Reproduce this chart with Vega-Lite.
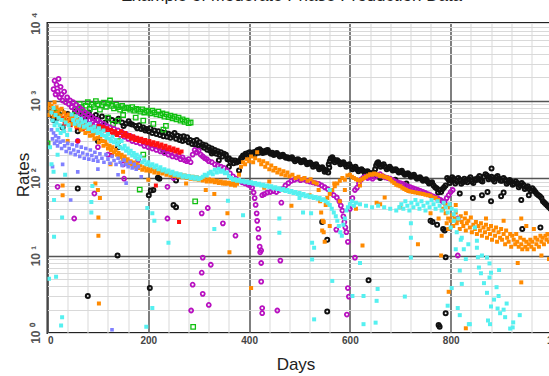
{
  "$schema": "https://vega.github.io/schema/vega-lite/v6.json",
  "width": 504,
  "height": 310,
  "autosize": {"type": "none"},
  "padding": {"left": 47.5, "top": 23, "right": 0, "bottom": 43},
  "background": "white",
  "config": {"font": "Liberation Sans", "view": {"stroke": "#222", "strokeWidth": 2}},
  "title": {"text": "Example of Moderate Phase Production Data", "frame": "group", "anchor": "middle", "orient": "top", "offset": 0, "dy": 6.5, "baseline": "alphabetic", "dx": -8, "fontSize": 17, "fontWeight": "normal", "color": "#222"},
  "datasets": {
    "black": [
      {"d":5,"r":800},{"d":8,"r":650},{"d":12,"r":560},{"d":16,"r":700},{"d":20,"r":600},{"d":28,"r":720},{"d":40,"r":670},{"d":48,"r":560},{"d":55,"r":720},{"d":62,"r":620},{"d":70,"r":680},{"d":76,"r":560},{"d":82,"r":700},{"d":90,"r":600},{"d":96,"r":650},{"d":100,"r":560},{"d":108,"r":620},{"d":115,"r":520},{"d":121,"r":600},{"d":128,"r":560},{"d":135,"r":540},{"d":141,"r":580},{"d":148,"r":520},{"d":155,"r":500},{"d":161,"r":540},{"d":168,"r":490},{"d":175,"r":470},{"d":182,"r":480},{"d":190,"r":450},{"d":197,"r":430},{"d":204,"r":440},{"d":212,"r":410},{"d":220,"r":400},{"d":227,"r":390},{"d":234,"r":380},{"d":240,"r":373},{"d":247,"r":360},{"d":252,"r":380},{"d":258,"r":350},{"d":264,"r":340},{"d":270,"r":345},{"d":277,"r":335},{"d":283,"r":310},{"d":290,"r":300},{"d":296,"r":310},{"d":302,"r":290},{"d":308,"r":270},{"d":314,"r":265},{"d":320,"r":250},{"d":326,"r":240},{"d":332,"r":230},{"d":338,"r":222},{"d":344,"r":215},{"d":350,"r":205},{"d":354,"r":200},{"d":360,"r":180},{"d":366,"r":170},{"d":372,"r":168},{"d":378,"r":165},{"d":384,"r":180},{"d":388,"r":195},{"d":393,"r":205},{"d":398,"r":210},{"d":404,"r":200},{"d":409,"r":215},{"d":414,"r":220},{"d":419,"r":212},{"d":424,"r":225},{"d":429,"r":220},{"d":434,"r":226},{"d":440,"r":215},{"d":446,"r":212},{"d":452,"r":205},{"d":458,"r":200},{"d":464,"r":195},{"d":470,"r":190},{"d":476,"r":185},{"d":482,"r":180},{"d":488,"r":175},{"d":494,"r":172},{"d":500,"r":168},{"d":506,"r":165},{"d":512,"r":160},{"d":518,"r":155},{"d":524,"r":150},{"d":530,"r":145},{"d":536,"r":140},{"d":542,"r":135},{"d":548,"r":130},{"d":553,"r":125},{"d":558,"r":150},{"d":562,"r":178},{"d":567,"r":175},{"d":572,"r":168},{"d":578,"r":162},{"d":584,"r":155},{"d":590,"r":150},{"d":596,"r":145},{"d":602,"r":140},{"d":608,"r":135},{"d":614,"r":130},{"d":620,"r":127},{"d":626,"r":124},{"d":632,"r":120},{"d":638,"r":117},{"d":644,"r":114},{"d":650,"r":130},{"d":654,"r":155},{"d":658,"r":150},{"d":664,"r":146},{"d":670,"r":140},{"d":676,"r":135},{"d":682,"r":132},{"d":688,"r":128},{"d":694,"r":124},{"d":700,"r":120},{"d":706,"r":116},{"d":712,"r":113},{"d":718,"r":110},{"d":724,"r":107},{"d":730,"r":103},{"d":736,"r":100},{"d":742,"r":97},{"d":748,"r":94},{"d":754,"r":90},{"d":760,"r":86},{"d":766,"r":80},{"d":772,"r":74},{"d":778,"r":70},{"d":784,"r":72},{"d":790,"r":80},{"d":796,"r":95},{"d":800,"r":92},{"d":806,"r":98},{"d":812,"r":90},{"d":818,"r":95},{"d":824,"r":88},{"d":830,"r":93},{"d":836,"r":97},{"d":842,"r":90},{"d":848,"r":96},{"d":854,"r":100},{"d":860,"r":93},{"d":866,"r":104},{"d":872,"r":108},{"d":878,"r":100},{"d":884,"r":95},{"d":890,"r":102},{"d":896,"r":98},{"d":902,"r":92},{"d":908,"r":95},{"d":914,"r":88},{"d":920,"r":90},{"d":926,"r":84},{"d":932,"r":86},{"d":938,"r":80},{"d":944,"r":82},{"d":950,"r":76},{"d":956,"r":72},{"d":962,"r":74},{"d":968,"r":66},{"d":974,"r":60},{"d":980,"r":55},{"d":986,"r":48},{"d":992,"r":44},{"d":998,"r":40},
      {"d":151,"r":470},{"d":164,"r":500},{"d":178,"r":440},{"d":186,"r":430},{"d":194,"r":410},{"d":201,"r":400},{"d":208,"r":380},{"d":216,"r":370},{"d":223,"r":360},{"d":230,"r":345},{"d":237,"r":340},{"d":244,"r":330},{"d":255,"r":320},{"d":262,"r":310},{"d":268,"r":300},{"d":274,"r":310},{"d":280,"r":290},{"d":287,"r":275},{"d":293,"r":270},{"d":299,"r":265},{"d":305,"r":255},{"d":311,"r":245},{"d":317,"r":232},{"d":323,"r":225},{"d":329,"r":215},{"d":335,"r":205},{"d":341,"r":200},{"d":347,"r":190},{"d":357,"r":175},{"d":363,"r":160},{"d":369,"r":155},{"d":375,"r":158},{"d":381,"r":165},{"d":386,"r":185},{"d":391,"r":190},{"d":396,"r":195},{"d":401,"r":215},{"d":406,"r":205},{"d":411,"r":200},{"d":417,"r":230},{"d":421,"r":235},{"d":427,"r":210},{"d":432,"r":215},{"d":437,"r":230},{"d":443,"r":205},{"d":449,"r":198},{"d":455,"r":210},{"d":461,"r":190},{"d":467,"r":200},{"d":473,"r":182},{"d":479,"r":178},{"d":485,"r":185},{"d":491,"r":165},{"d":497,"r":175},{"d":503,"r":160},{"d":509,"r":170},{"d":515,"r":150},{"d":521,"r":158},{"d":527,"r":140},{"d":533,"r":150},{"d":539,"r":130},{"d":545,"r":138},{"d":550,"r":120},{"d":560,"r":165},{"d":565,"r":185},{"d":570,"r":160},{"d":575,"r":170},{"d":581,"r":150},{"d":587,"r":160},{"d":593,"r":140},{"d":599,"r":150},{"d":605,"r":130},{"d":611,"r":140},{"d":617,"r":122},{"d":623,"r":130},{"d":629,"r":118},{"d":635,"r":122},{"d":641,"r":110},{"d":647,"r":118},{"d":652,"r":145},{"d":656,"r":160},{"d":661,"r":140},{"d":667,"r":150},{"d":673,"r":130},{"d":679,"r":140},{"d":685,"r":125},{"d":691,"r":130},{"d":697,"r":118},{"d":703,"r":124},{"d":709,"r":110},{"d":715,"r":115},{"d":721,"r":104},{"d":727,"r":110},{"d":733,"r":98},{"d":739,"r":102},{"d":745,"r":92},{"d":751,"r":96},{"d":757,"r":85},{"d":763,"r":88},{"d":769,"r":76},{"d":775,"r":65},{"d":781,"r":66},{"d":787,"r":76},{"d":793,"r":100},{"d":798,"r":86},{"d":803,"r":102},{"d":809,"r":85},{"d":815,"r":100},{"d":821,"r":84},{"d":827,"r":98},{"d":833,"r":88},{"d":839,"r":102},{"d":845,"r":86},{"d":851,"r":94},{"d":857,"r":106},{"d":863,"r":90},{"d":869,"r":112},{"d":875,"r":96},{"d":881,"r":104},{"d":887,"r":90},{"d":893,"r":106},{"d":899,"r":92},{"d":905,"r":100},{"d":911,"r":84},{"d":917,"r":94},{"d":923,"r":82},{"d":929,"r":90},{"d":935,"r":76},{"d":941,"r":86},{"d":947,"r":72},{"d":953,"r":78},{"d":959,"r":68},{"d":965,"r":70},{"d":971,"r":62},{"d":977,"r":58},{"d":983,"r":50},{"d":989,"r":46},{"d":995,"r":42},
      {"d":60,"r":73},{"d":219,"r":101},{"d":205,"r":69},{"d":201,"r":60},{"d":255,"r":42},{"d":139,"r":10},{"d":80,"r":3},{"d":203,"r":3.8},{"d":380,"r":125},{"d":255,"r":93},{"d":222,"r":98},{"d":210,"r":70},{"d":250,"r":45},{"d":326,"r":207},{"d":559,"r":137},{"d":545,"r":27},{"d":555,"r":16},{"d":557,"r":118},{"d":637,"r":4.8},{"d":555,"r":1.9},{"d":818,"r":63},{"d":844,"r":55},{"d":873,"r":66},{"d":880,"r":50},{"d":900,"r":58},{"d":940,"r":52},{"d":764,"r":27},{"d":788,"r":21},{"d":881,"r":133},{"d":785,"r":22},{"d":790,"r":9.5},{"d":790,"r":1.8},{"d":776,"r":1.27},{"d":942,"r":22},{"d":978,"r":23},{"d":650,"r":108},{"d":660,"r":100},{"d":760,"r":28},{"d":773,"r":25},{"d":778,"r":1.2},{"d":690,"r":95},{"d":712,"r":85},{"d":862,"r":60},{"d":905,"r":65},{"d":955,"r":60},{"d":140,"r":250},{"d":100,"r":300},{"d":60,"r":400},{"d":30,"r":450},{"d":230,"r":220},{"d":340,"r":170},{"d":360,"r":140}
    ],
    "green": [
      {"d":0,"r":280},{"d":20,"r":700},{"d":40,"r":600},{"d":55,"r":650},{"d":60,"r":750},{"d":64,"r":900},{"d":68,"r":820},{"d":72,"r":700},{"d":76,"r":860},{"d":80,"r":950},{"d":84,"r":780},{"d":88,"r":880},{"d":92,"r":820},{"d":96,"r":980},{"d":100,"r":900},{"d":104,"r":760},{"d":108,"r":870},{"d":112,"r":940},{"d":116,"r":830},{"d":120,"r":910},{"d":124,"r":1000},{"d":128,"r":850},{"d":132,"r":790},{"d":136,"r":880},{"d":140,"r":820},{"d":144,"r":760},{"d":148,"r":850},{"d":152,"r":790},{"d":156,"r":810},{"d":160,"r":800},{"d":164,"r":760},{"d":168,"r":820},{"d":172,"r":740},{"d":176,"r":780},{"d":180,"r":760},{"d":184,"r":720},{"d":188,"r":770},{"d":192,"r":700},{"d":196,"r":740},{"d":200,"r":720},{"d":204,"r":680},{"d":208,"r":740},{"d":212,"r":700},{"d":216,"r":660},{"d":220,"r":720},{"d":224,"r":650},{"d":228,"r":680},{"d":232,"r":620},{"d":236,"r":660},{"d":240,"r":610},{"d":244,"r":640},{"d":248,"r":590},{"d":252,"r":620},{"d":256,"r":570},{"d":260,"r":600},{"d":264,"r":550},{"d":268,"r":570},{"d":272,"r":530},{"d":276,"r":550},{"d":280,"r":510},{"d":284,"r":520},
      {"d":120,"r":600},{"d":130,"r":500},{"d":140,"r":550},{"d":150,"r":650},{"d":175,"r":600},{"d":190,"r":550},{"d":210,"r":500},{"d":235,"r":470},
      {"d":183,"r":71},{"d":293,"r":50},{"d":289,"r":1.2},{"d":140,"r":300},{"d":190,"r":200},{"d":230,"r":420},{"d":60,"r":500}
    ],
    "magenta": [
      {"d":12,"r":1400},{"d":14,"r":1800},{"d":16,"r":1200},{"d":18,"r":1600},{"d":20,"r":1300},{"d":22,"r":1900},{"d":24,"r":1100},{"d":26,"r":1500},{"d":28,"r":1200},{"d":30,"r":1000},{"d":33,"r":1300},{"d":36,"r":950},{"d":39,"r":1100},{"d":42,"r":900},{"d":45,"r":1000},{"d":48,"r":820},{"d":51,"r":950},{"d":54,"r":780},{"d":57,"r":880},{"d":60,"r":720},{"d":63,"r":820},{"d":66,"r":680},{"d":69,"r":760},{"d":72,"r":640},{"d":75,"r":700},{"d":78,"r":600},{"d":81,"r":660},{"d":84,"r":560},{"d":87,"r":620},{"d":90,"r":540},{"d":93,"r":580},{"d":96,"r":500},{"d":99,"r":560},{"d":102,"r":480},{"d":105,"r":520},{"d":108,"r":460},{"d":111,"r":500},{"d":114,"r":440},{"d":117,"r":470},{"d":120,"r":420},{"d":124,"r":450},{"d":128,"r":400},{"d":132,"r":430},{"d":136,"r":380},{"d":140,"r":410},{"d":144,"r":360},{"d":148,"r":390},{"d":152,"r":340},{"d":156,"r":370},{"d":160,"r":320},{"d":164,"r":350},{"d":168,"r":300},{"d":172,"r":330},{"d":176,"r":290},{"d":180,"r":310},{"d":184,"r":280},{"d":188,"r":300},{"d":192,"r":260},{"d":196,"r":280},{"d":200,"r":250},{"d":204,"r":270},{"d":208,"r":240},{"d":212,"r":260},{"d":216,"r":230},{"d":220,"r":250},{"d":224,"r":220},{"d":228,"r":240},{"d":232,"r":210},{"d":236,"r":225},{"d":240,"r":200},{"d":244,"r":215},{"d":248,"r":190},{"d":252,"r":205},{"d":256,"r":185},{"d":260,"r":195},{"d":264,"r":175},{"d":268,"r":185},{"d":272,"r":170},{"d":276,"r":165},{"d":280,"r":175},{"d":284,"r":160},{"d":288,"r":200},{"d":292,"r":230},{"d":296,"r":215},{"d":300,"r":226},{"d":304,"r":200},{"d":308,"r":190},{"d":312,"r":180},{"d":316,"r":175},{"d":320,"r":165},{"d":326,"r":160},{"d":332,"r":150},{"d":338,"r":145},{"d":344,"r":140},{"d":350,"r":135},{"d":356,"r":125},{"d":362,"r":115},{"d":368,"r":105},{"d":374,"r":98},{"d":380,"r":92},{"d":386,"r":88},{"d":392,"r":85},{"d":398,"r":82},{"d":402,"r":80},{"d":406,"r":75},{"d":409,"r":65},{"d":411,"r":55},{"d":413,"r":45},{"d":415,"r":35},{"d":416,"r":28},{"d":418,"r":22},{"d":419,"r":17},{"d":421,"r":13},{"d":422,"r":11},{"d":424,"r":8},{"d":426,"r":60},{"d":430,"r":62},{"d":436,"r":65},{"d":442,"r":66},{"d":448,"r":68},{"d":454,"r":66},{"d":460,"r":70},{"d":466,"r":72},{"d":472,"r":80},{"d":478,"r":86},{"d":484,"r":92},{"d":490,"r":95},{"d":496,"r":98},{"d":502,"r":94},{"d":508,"r":96},{"d":514,"r":92},{"d":520,"r":90},{"d":526,"r":88},{"d":532,"r":86},{"d":538,"r":84},{"d":544,"r":80},{"d":550,"r":76},{"d":556,"r":72},{"d":562,"r":66},{"d":568,"r":60},{"d":574,"r":56},{"d":579,"r":50},{"d":582,"r":44},{"d":585,"r":38},{"d":587,"r":32},{"d":589,"r":27},{"d":591,"r":23},{"d":593,"r":20},{"d":596,"r":15},{"d":600,"r":40},{"d":605,"r":55},{"d":610,"r":70},{"d":614,"r":75},{"d":618,"r":85},{"d":622,"r":95},{"d":626,"r":100},{"d":630,"r":104},{"d":635,"r":100},{"d":640,"r":102},{"d":645,"r":98},{"d":650,"r":104},{"d":655,"r":108},{"d":660,"r":112},{"d":665,"r":106},{"d":670,"r":102},{"d":675,"r":100},{"d":680,"r":98},{"d":685,"r":94},{"d":690,"r":90},{"d":695,"r":88},{"d":700,"r":86},{"d":705,"r":84},{"d":710,"r":80},{"d":715,"r":78},{"d":720,"r":76},{"d":725,"r":74},{"d":730,"r":72},{"d":735,"r":70},{"d":740,"r":68},{"d":745,"r":66},{"d":750,"r":64},{"d":755,"r":62},{"d":760,"r":60},{"d":765,"r":58},{"d":770,"r":56},{"d":775,"r":54},{"d":780,"r":52},{"d":784,"r":50},{"d":788,"r":48},{"d":792,"r":55},{"d":796,"r":60},{"d":800,"r":66},{"d":804,"r":70},
      {"d":20,"r":77},{"d":93,"r":63},{"d":53,"r":30},{"d":152,"r":98},{"d":238,"r":77},{"d":238,"r":30},{"d":306,"r":35},{"d":318,"r":41},{"d":348,"r":26},{"d":373,"r":18},{"d":308,"r":9.4},{"d":324,"r":7.6},{"d":306,"r":6},{"d":288,"r":4.2},{"d":308,"r":3.2},{"d":320,"r":2.3},{"d":285,"r":1.95},{"d":424,"r":11.6},{"d":462,"r":8.6},{"d":424,"r":4.6},{"d":426,"r":2.1},{"d":426,"r":1.8},{"d":456,"r":1.95},{"d":573,"r":21.6},{"d":610,"r":9.4},{"d":596,"r":3.8},{"d":598,"r":2.95},{"d":594,"r":1.73},{"d":464,"r":48},{"d":814,"r":30},{"d":814,"r":10},{"d":150,"r":150},{"d":180,"r":170},{"d":120,"r":200},{"d":250,"r":100},{"d":60,"r":300},{"d":100,"r":250}
    ],
    "red": [
      {"d":30,"r":600},{"d":34,"r":500},{"d":38,"r":650},{"d":42,"r":560},{"d":46,"r":480},{"d":50,"r":620},{"d":54,"r":520},{"d":58,"r":450},{"d":62,"r":560},{"d":66,"r":480},{"d":70,"r":430},{"d":74,"r":520},{"d":78,"r":450},{"d":82,"r":400},{"d":86,"r":470},{"d":90,"r":420},{"d":94,"r":380},{"d":98,"r":440},{"d":102,"r":470},{"d":106,"r":420},{"d":110,"r":460},{"d":114,"r":410},{"d":118,"r":440},{"d":122,"r":390},{"d":126,"r":420},{"d":130,"r":370},{"d":134,"r":400},{"d":138,"r":360},{"d":142,"r":380},{"d":146,"r":400},{"d":150,"r":350},{"d":154,"r":380},{"d":158,"r":340},{"d":162,"r":360},{"d":166,"r":320},{"d":170,"r":345},{"d":174,"r":310},{"d":178,"r":330},{"d":182,"r":300},{"d":186,"r":320},{"d":190,"r":290},{"d":194,"r":310},{"d":198,"r":280},{"d":202,"r":300},{"d":206,"r":270},{"d":210,"r":290},{"d":214,"r":265},{"d":218,"r":280},{"d":222,"r":255},{"d":226,"r":270},{"d":230,"r":245},{"d":234,"r":260},{"d":238,"r":235},{"d":242,"r":250},{"d":246,"r":228},{"d":250,"r":240},{"d":254,"r":220},{"d":258,"r":232},{"d":262,"r":212},{"d":266,"r":220},
      {"d":215,"r":80},{"d":261,"r":27},{"d":128,"r":200},{"d":60,"r":300}
    ],
    "orange": [
      {"d":0,"r":800},{"d":2,"r":650},{"d":4,"r":900},{"d":6,"r":720},{"d":8,"r":850},{"d":10,"r":750},{"d":12,"r":620},{"d":14,"r":950},{"d":16,"r":680},{"d":18,"r":820},{"d":20,"r":700},{"d":22,"r":600},{"d":24,"r":760},{"d":26,"r":640},{"d":28,"r":780},{"d":30,"r":560},{"d":33,"r":700},{"d":36,"r":620},{"d":39,"r":540},{"d":42,"r":660},{"d":45,"r":580},{"d":48,"r":500},{"d":51,"r":620},{"d":54,"r":540},{"d":57,"r":470},{"d":60,"r":560},{"d":63,"r":480},{"d":66,"r":420},{"d":69,"r":500},{"d":72,"r":440},{"d":75,"r":380},{"d":78,"r":460},{"d":81,"r":400},{"d":84,"r":350},{"d":87,"r":420},{"d":90,"r":360},{"d":93,"r":320},{"d":96,"r":380},{"d":99,"r":330},{"d":102,"r":290},{"d":105,"r":340},{"d":108,"r":300},{"d":111,"r":260},{"d":114,"r":300},{"d":117,"r":270},{"d":120,"r":240},{"d":123,"r":260},{"d":126,"r":230},{"d":129,"r":250},{"d":132,"r":215},{"d":135,"r":230},{"d":138,"r":200},{"d":141,"r":210},{"d":144,"r":185},{"d":147,"r":200},{"d":150,"r":175},{"d":153,"r":190},{"d":156,"r":165},{"d":159,"r":175},{"d":162,"r":155},{"d":165,"r":165},{"d":168,"r":148},{"d":171,"r":158},{"d":174,"r":140},{"d":177,"r":150},{"d":180,"r":135},{"d":184,"r":145},{"d":188,"r":128},{"d":192,"r":138},{"d":196,"r":125},{"d":200,"r":132},{"d":204,"r":122},{"d":208,"r":130},{"d":212,"r":118},{"d":216,"r":126},{"d":220,"r":116},{"d":224,"r":124},{"d":228,"r":114},{"d":232,"r":120},{"d":236,"r":110},{"d":240,"r":118},{"d":244,"r":108},{"d":248,"r":115},{"d":252,"r":106},{"d":256,"r":112},{"d":260,"r":104},{"d":264,"r":110},{"d":268,"r":102},{"d":272,"r":108},{"d":276,"r":100},{"d":280,"r":106},{"d":284,"r":98},{"d":288,"r":104},{"d":292,"r":96},{"d":296,"r":102},{"d":300,"r":95},{"d":304,"r":100},{"d":308,"r":93},{"d":312,"r":98},{"d":316,"r":90},{"d":320,"r":96},{"d":324,"r":90},{"d":328,"r":94},{"d":332,"r":88},{"d":336,"r":92},{"d":340,"r":86},{"d":344,"r":90},{"d":348,"r":85},{"d":352,"r":88},{"d":356,"r":84},{"d":360,"r":87},{"d":364,"r":82},{"d":368,"r":86},{"d":372,"r":80},{"d":376,"r":84},{"d":380,"r":110},{"d":384,"r":140},{"d":388,"r":160},{"d":392,"r":150},{"d":396,"r":175},{"d":400,"r":165},{"d":404,"r":190},{"d":408,"r":160},{"d":412,"r":180},{"d":416,"r":215},{"d":420,"r":170},{"d":424,"r":150},{"d":428,"r":165},{"d":432,"r":140},{"d":436,"r":155},{"d":440,"r":130},{"d":444,"r":145},{"d":448,"r":125},{"d":452,"r":135},{"d":456,"r":118},{"d":460,"r":128},{"d":464,"r":112},{"d":468,"r":122},{"d":472,"r":108},{"d":476,"r":118},{"d":480,"r":105},{"d":486,"r":110},{"d":492,"r":100},{"d":498,"r":104},{"d":504,"r":96},{"d":510,"r":100},{"d":516,"r":92},{"d":522,"r":96},{"d":528,"r":88},{"d":534,"r":85},{"d":538,"r":70},{"d":541,"r":50},{"d":543,"r":36},{"d":546,"r":28},{"d":548,"r":20},{"d":550,"r":15},{"d":552,"r":45},{"d":555,"r":55},{"d":560,"r":62},{"d":565,"r":70},{"d":570,"r":78},{"d":575,"r":85},{"d":580,"r":92},{"d":585,"r":100},{"d":590,"r":95},{"d":595,"r":108},{"d":600,"r":110},{"d":604,"r":104},{"d":608,"r":100},{"d":612,"r":96},{"d":616,"r":94},{"d":620,"r":92},{"d":624,"r":96},{"d":628,"r":100},{"d":632,"r":104},{"d":636,"r":108},{"d":640,"r":112},{"d":644,"r":110},{"d":648,"r":114},{"d":652,"r":112},{"d":656,"r":110},{"d":660,"r":106},{"d":664,"r":108},{"d":668,"r":104},{"d":672,"r":102},{"d":676,"r":100},{"d":680,"r":96},{"d":684,"r":90},{"d":688,"r":86},{"d":692,"r":82},{"d":696,"r":80},{"d":700,"r":78},{"d":704,"r":75},{"d":708,"r":72},{"d":712,"r":70},{"d":716,"r":68},{"d":720,"r":67},{"d":725,"r":66},{"d":730,"r":65},{"d":735,"r":64},{"d":740,"r":63},{"d":745,"r":62},{"d":750,"r":61},{"d":755,"r":60},{"d":760,"r":59},{"d":765,"r":56},{"d":770,"r":55},{"d":775,"r":52},
      {"d":785,"r":40},{"d":790,"r":35},{"d":792,"r":26},{"d":795,"r":30},{"d":798,"r":42},{"d":800,"r":28},{"d":803,"r":33},{"d":805,"r":24},{"d":808,"r":30},{"d":810,"r":36},{"d":812,"r":26},{"d":815,"r":29},{"d":818,"r":22},{"d":820,"r":32},{"d":822,"r":27},{"d":825,"r":24},{"d":828,"r":30},{"d":830,"r":21},{"d":832,"r":26},{"d":835,"r":28},{"d":838,"r":23},{"d":840,"r":31},{"d":842,"r":20},{"d":845,"r":25},{"d":848,"r":22},{"d":850,"r":27},{"d":852,"r":19},{"d":855,"r":24},{"d":858,"r":21},{"d":860,"r":26},{"d":862,"r":18},{"d":865,"r":23},{"d":868,"r":20},{"d":870,"r":25},{"d":872,"r":17},{"d":875,"r":22},{"d":878,"r":19},{"d":880,"r":24},{"d":882,"r":16},{"d":885,"r":21},{"d":888,"r":18},{"d":890,"r":23},{"d":892,"r":15},{"d":895,"r":20},{"d":898,"r":17},{"d":900,"r":22},{"d":902,"r":16},{"d":905,"r":19},{"d":908,"r":14},{"d":910,"r":21},{"d":912,"r":17},{"d":915,"r":15},{"d":918,"r":19},{"d":920,"r":13},{"d":922,"r":18},{"d":925,"r":16},{"d":928,"r":14},{"d":930,"r":19},{"d":932,"r":15},{"d":935,"r":13},{"d":938,"r":17},{"d":940,"r":14},{"d":942,"r":12},{"d":945,"r":16},{"d":948,"r":13},{"d":950,"r":15},{"d":952,"r":12},{"d":955,"r":14},{"d":958,"r":16},{"d":960,"r":13},{"d":962,"r":15},{"d":965,"r":12},{"d":968,"r":17},{"d":970,"r":14},{"d":972,"r":16},{"d":975,"r":13},{"d":978,"r":18},{"d":980,"r":15},{"d":982,"r":17},{"d":985,"r":14},{"d":988,"r":18},{"d":990,"r":16},{"d":992,"r":19},{"d":995,"r":15},{"d":998,"r":17},{"d":1000,"r":18},
      {"d":830,"r":35},{"d":870,"r":30},{"d":905,"r":28},{"d":940,"r":30},{"d":965,"r":22},{"d":980,"r":10},{"d":995,"r":9},{"d":810,"r":45},{"d":950,"r":24},
      {"d":30,"r":80},{"d":30,"r":60},{"d":95,"r":85},{"d":100,"r":70},{"d":104,"r":55},{"d":101,"r":31},{"d":101,"r":18},{"d":102,"r":2.4},{"d":275,"r":85},{"d":314,"r":70},{"d":331,"r":62},{"d":352,"r":85},{"d":357,"r":35},{"d":361,"r":11},{"d":404,"r":3.8},{"d":484,"r":44},{"d":545,"r":21},{"d":548,"r":27},{"d":625,"r":13.5},{"d":653,"r":48},{"d":669,"r":56},{"d":569,"r":85},{"d":735,"r":14},{"d":776,"r":30},{"d":782,"r":18},{"d":781,"r":10},{"d":796,"r":3.4},{"d":830,"r":1.15},{"d":933,"r":8},{"d":940,"r":4.5},{"d":790,"r":45},{"d":795,"r":22},{"d":560,"r":24},{"d":580,"r":50},{"d":612,"r":40},{"d":660,"r":46},{"d":700,"r":42},{"d":760,"r":35},{"d":520,"r":60},{"d":470,"r":70},{"d":440,"r":90},{"d":430,"r":75},{"d":620,"r":80},{"d":590,"r":70},{"d":150,"r":120},{"d":200,"r":95},{"d":125,"r":150},{"d":40,"r":300}
    ],
    "lavender": [
      {"d":8,"r":420},{"d":10,"r":320},{"d":12,"r":380},{"d":14,"r":280},{"d":16,"r":350},{"d":18,"r":300},{"d":20,"r":260},{"d":22,"r":330},{"d":25,"r":290},{"d":28,"r":240},{"d":31,"r":300},{"d":34,"r":260},{"d":37,"r":220},{"d":40,"r":280},{"d":43,"r":240},{"d":46,"r":210},{"d":49,"r":270},{"d":52,"r":230},{"d":55,"r":200},{"d":58,"r":260},{"d":61,"r":220},{"d":64,"r":190},{"d":67,"r":250},{"d":70,"r":210},{"d":73,"r":180},{"d":76,"r":240},{"d":79,"r":200},{"d":82,"r":175},{"d":85,"r":230},{"d":88,"r":195},{"d":91,"r":170},{"d":94,"r":215},{"d":97,"r":185},{"d":100,"r":165},{"d":104,"r":205},{"d":108,"r":180},{"d":112,"r":160},{"d":116,"r":200},{"d":120,"r":175},{"d":124,"r":155},{"d":128,"r":190},{"d":132,"r":168},{"d":136,"r":150},{"d":140,"r":180},{"d":144,"r":160},{"d":148,"r":145},{"d":152,"r":170},{"d":156,"r":150},{"d":160,"r":140},{"d":164,"r":160},{"d":168,"r":135},{"d":172,"r":150},{"d":176,"r":130},{"d":180,"r":140},
      {"d":46,"r":52},{"d":156,"r":86},{"d":186,"r":104},{"d":128,"r":1.1},{"d":30,"r":150},{"d":60,"r":120},{"d":100,"r":130},{"d":140,"r":110},{"d":10,"r":140}
    ],
    "cyan": [
      {"d":8,"r":700},{"d":10,"r":550},{"d":12,"r":800},{"d":14,"r":480},{"d":16,"r":650},{"d":18,"r":520},{"d":20,"r":420},{"d":22,"r":600},{"d":24,"r":480},{"d":26,"r":380},{"d":28,"r":560},{"d":30,"r":450},{"d":33,"r":400},{"d":36,"r":520},{"d":39,"r":360},{"d":42,"r":480},{"d":45,"r":420},{"d":48,"r":660},{"d":51,"r":560},{"d":54,"r":500},{"d":57,"r":620},{"d":60,"r":540},{"d":63,"r":480},{"d":66,"r":580},{"d":69,"r":520},{"d":72,"r":460},{"d":75,"r":540},{"d":78,"r":480},{"d":81,"r":430},{"d":84,"r":500},{"d":87,"r":440},{"d":90,"r":400},{"d":93,"r":460},{"d":96,"r":410},{"d":99,"r":380},{"d":102,"r":440},{"d":105,"r":390},{"d":108,"r":360},{"d":111,"r":410},{"d":114,"r":350},{"d":117,"r":330},{"d":120,"r":370},{"d":123,"r":320},{"d":126,"r":300},{"d":129,"r":340},{"d":132,"r":290},{"d":135,"r":310},{"d":138,"r":270},{"d":141,"r":290},{"d":144,"r":250},{"d":147,"r":300},{"d":150,"r":240},{"d":153,"r":260},{"d":156,"r":225},{"d":159,"r":240},{"d":162,"r":210},{"d":165,"r":225},{"d":168,"r":195},{"d":171,"r":210},{"d":174,"r":185},{"d":177,"r":200},{"d":180,"r":175},{"d":184,"r":190},{"d":188,"r":160},{"d":192,"r":170},{"d":196,"r":150},{"d":200,"r":160},{"d":204,"r":145},{"d":208,"r":150},{"d":212,"r":138},{"d":216,"r":145},{"d":220,"r":130},{"d":224,"r":138},{"d":228,"r":125},{"d":232,"r":130},{"d":236,"r":120},{"d":240,"r":125},{"d":244,"r":115},{"d":248,"r":120},{"d":252,"r":110},{"d":256,"r":115},{"d":260,"r":108},{"d":264,"r":112},{"d":268,"r":104},{"d":272,"r":108},{"d":276,"r":102},{"d":280,"r":106},{"d":284,"r":100},{"d":288,"r":104},{"d":292,"r":98},{"d":296,"r":102},{"d":300,"r":96},{"d":304,"r":100},{"d":308,"r":104},{"d":312,"r":110},{"d":316,"r":108},{"d":320,"r":115},{"d":324,"r":120},{"d":328,"r":112},{"d":332,"r":128},{"d":336,"r":118},{"d":340,"r":132},{"d":344,"r":120},{"d":348,"r":125},{"d":352,"r":115},{"d":356,"r":118},{"d":360,"r":105},{"d":364,"r":100},{"d":368,"r":95},{"d":372,"r":96},{"d":376,"r":92},{"d":380,"r":94},{"d":384,"r":90},{"d":388,"r":92},{"d":392,"r":88},{"d":396,"r":90},{"d":400,"r":86},{"d":404,"r":88},{"d":408,"r":84},{"d":412,"r":86},{"d":416,"r":82},{"d":420,"r":84},{"d":424,"r":80},{"d":428,"r":82},{"d":432,"r":78},{"d":436,"r":80},{"d":440,"r":76},{"d":444,"r":78},{"d":448,"r":74},{"d":452,"r":76},{"d":456,"r":72},{"d":460,"r":74},{"d":464,"r":70},{"d":468,"r":72},{"d":472,"r":68},{"d":476,"r":70},{"d":480,"r":66},{"d":484,"r":68},{"d":488,"r":64},{"d":492,"r":66},{"d":496,"r":62},{"d":500,"r":64},{"d":504,"r":60},{"d":508,"r":62},{"d":512,"r":58},{"d":516,"r":60},{"d":520,"r":57},{"d":524,"r":58},{"d":528,"r":55},{"d":532,"r":57},{"d":536,"r":54},{"d":540,"r":55},{"d":544,"r":52},{"d":548,"r":53},{"d":552,"r":50},{"d":556,"r":48},{"d":560,"r":45},{"d":564,"r":40},{"d":568,"r":36},{"d":572,"r":32},{"d":575,"r":28},{"d":578,"r":24},{"d":581,"r":20},{"d":584,"r":18},{"d":587,"r":25},{"d":590,"r":30},{"d":593,"r":38},{"d":596,"r":42},{"d":600,"r":46},{"d":604,"r":50},{"d":608,"r":44},{"d":612,"r":48},{"d":620,"r":46},{"d":632,"r":44},{"d":644,"r":42},{"d":656,"r":44},{"d":668,"r":42},{"d":680,"r":40},{"d":692,"r":38},{"d":698,"r":42},{"d":702,"r":46},{"d":706,"r":40},{"d":710,"r":50},{"d":714,"r":44},{"d":718,"r":38},{"d":722,"r":48},{"d":726,"r":42},{"d":730,"r":52},{"d":734,"r":46},{"d":738,"r":40},{"d":742,"r":50},{"d":746,"r":44},{"d":750,"r":38},{"d":754,"r":48},{"d":758,"r":42},{"d":762,"r":52},{"d":766,"r":46},{"d":770,"r":40},{"d":774,"r":50},{"d":778,"r":44},{"d":782,"r":38},{"d":786,"r":48},{"d":790,"r":42},{"d":794,"r":36},{"d":798,"r":46},{"d":802,"r":40},{"d":806,"r":34},{"d":810,"r":38},
      {"d":5,"r":250},{"d":8,"r":150},{"d":12,"r":120},{"d":20,"r":200},{"d":35,"r":110},
      {"d":13,"r":52},{"d":29,"r":31},{"d":13,"r":17.5},{"d":17,"r":5.3},{"d":3,"r":5},{"d":29,"r":1.6},{"d":27,"r":1.25},{"d":89,"r":79},{"d":87,"r":49},{"d":87,"r":36},{"d":198,"r":41},{"d":208,"r":35},{"d":212,"r":28},{"d":240,"r":14.6},{"d":208,"r":2.1},{"d":196,"r":1.2},{"d":358,"r":51},{"d":331,"r":22},{"d":388,"r":33},{"d":460,"r":30},{"d":460,"r":19.7},{"d":507,"r":36},{"d":523,"r":35},{"d":525,"r":14.6},{"d":529,"r":12.6},{"d":525,"r":8.9},{"d":565,"r":4.7},{"d":529,"r":1.5},{"d":605,"r":3},{"d":627,"r":3},{"d":627,"r":1.3},{"d":651,"r":1.36},{"d":653,"r":2.6},{"d":655,"r":3.7},{"d":709,"r":2.95},{"d":721,"r":9.4},{"d":721,"r":17},{"d":721,"r":26},{"d":620,"r":8},{"d":560,"r":70},{"d":500,"r":55},
      {"d":812,"r":20},{"d":815,"r":30},{"d":818,"r":6.4},{"d":820,"r":16},{"d":822,"r":4.3},{"d":814,"r":2.1},{"d":826,"r":12},{"d":830,"r":9},{"d":835,"r":14},{"d":838,"r":1.3},{"d":848,"r":23},{"d":852,"r":15.5},{"d":852,"r":12.6},{"d":854,"r":9.5},{"d":856,"r":7},{"d":860,"r":5.9},{"d":862,"r":10},{"d":866,"r":4.4},{"d":872,"r":9.4},{"d":877,"r":7.9},{"d":872,"r":3.3},{"d":877,"r":5.2},{"d":880,"r":6},{"d":891,"r":3.9},{"d":874,"r":1.45},{"d":886,"r":2.7},{"d":893,"r":2.07},{"d":895,"r":3},{"d":898,"r":1.8},{"d":911,"r":2.4},{"d":905,"r":2},{"d":908,"r":1.6},{"d":923,"r":1.18},{"d":937,"r":1.7},{"d":918,"r":1.14},{"d":924,"r":1.37},{"d":800,"r":23},{"d":806,"r":28},{"d":810,"r":12},{"d":822,"r":17},{"d":836,"r":1.3},{"d":802,"r":3.8},{"d":794,"r":2.25},{"d":818,"r":1.7},{"d":880,"r":2.2},{"d":896,"r":6.5},{"d":878,"r":1.3}
    ]
  },
  "encoding": {
    "x": {
      "field": "d",
      "type": "quantitative",
      "scale": {"domain": [0, 1000], "nice": false, "zero": false},
      "axis": {
        "title": "Days",
        "titleFontSize": 17,
        "titleFontWeight": "normal",
        "titleColor": "#222",
        "titleX": 248,
        "titleY": 36,
        "titleBaseline": "alphabetic",
        "titleAlign": "center",
        "values": [0,40,80,120,160,200,240,280,320,360,400,440,480,520,560,600,640,680,720,760,800,840,880,920,960,1000],
        "format": "d",
        "labelExpr": "datum.value % 200 == 0 ? datum.label : ''",
        "labelFontSize": 10,
        "labelFontWeight": "bold",
        "labelColor": "#444",
        "labelPadding": 2,
        "labelFlush": false,
        "labelOverlap": false,
        "labelAlign": {"condition": {"test": "datum.value == 0", "value": "left"}, "value": "center"},
        "labelOffset": {"condition": {"test": "datum.value == 1000", "value": 6}, "value": 0},
        "ticks": false,
        "domain": false,
        "grid": true,
        "gridColor": {"condition": {"test": "datum.value % 200 == 0", "value": "#555"}, "value": "#d9d9d9"},
        "gridWidth": {"condition": {"test": "datum.value % 200 == 0", "value": 1.5}, "value": 1}
      }
    },
    "y": {
      "field": "r",
      "type": "quantitative",
      "scale": {"type": "log", "domain": [1, 10000], "nice": false},
      "axis": {
        "title": "Rates",
        "titleFontSize": 17,
        "titleFontWeight": "normal",
        "titleColor": "#222",
        "titleAngle": 270,
        "titleX": -19.5,
        "titleY": 151.5,
        "titleBaseline": "alphabetic",
        "titleAlign": "center",
        "values": [1,2,3,4,5,6,7,8,9,10,20,30,40,50,60,70,80,90,100,200,300,400,500,600,700,800,900,1000,2000,3000,4000,5000,6000,7000,8000,9000,10000],
        "labelExpr": "datum.value == 1 ? '10 ⁰' : datum.value == 10 ? '10 ¹' : datum.value == 100 ? '10 ²' : datum.value == 1000 ? '10 ³' : datum.value == 10000 ? '10 ⁴' : ''",
        "labelAngle": 270,
        "labelAlign": "center",
        "labelBaseline": "bottom",
        "labelPadding": 5,
        "labelFontSize": 12,
        "labelFontWeight": "bold",
        "labelColor": "#555",
        "labelOverlap": false,
        "labelBound": false,
        "ticks": false,
        "domain": false,
        "grid": true,
        "gridColor": {"condition": {"test": "datum.value == 10 || datum.value == 100 || datum.value == 1000", "value": "#555"}, "value": "#d9d9d9"},
        "gridWidth": {"condition": {"test": "datum.value == 10 || datum.value == 100 || datum.value == 1000", "value": 1.5}, "value": 1}
      }
    }
  },
  "layer": [
    {"data": {"name": "black"}, "mark": {"type": "point", "shape": "circle", "filled": false, "color": "#111", "strokeWidth": 2, "size": 16, "opacity": 1, "clip": true}},
    {"data": {"name": "green"}, "mark": {"type": "point", "shape": "square", "filled": false, "color": "#10c010", "strokeWidth": 1.3, "size": 20, "opacity": 1, "clip": true}},
    {"data": {"name": "magenta"}, "mark": {"type": "point", "shape": "circle", "filled": false, "color": "#b810c0", "strokeWidth": 1.8, "size": 16, "opacity": 1, "clip": true}},
    {"data": {"name": "red"}, "mark": {"type": "point", "shape": "square", "filled": true, "color": "#ff1010", "size": 16, "opacity": 1, "clip": true}},
    {"data": {"name": "orange"}, "mark": {"type": "point", "shape": "square", "filled": true, "color": "#ff8a00", "size": 16, "opacity": 1, "clip": true}},
    {"data": {"name": "lavender"}, "mark": {"type": "point", "shape": "square", "filled": true, "color": "#8080ff", "size": 13, "opacity": 1, "clip": true}},
    {"data": {"name": "cyan"}, "mark": {"type": "point", "shape": "square", "filled": true, "color": "#55f0f0", "size": 16, "opacity": 1, "clip": true}}
  ]
}
